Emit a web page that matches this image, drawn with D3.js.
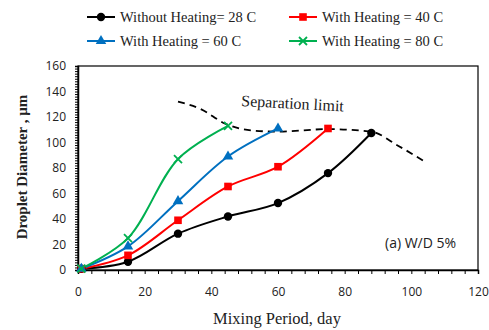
<!DOCTYPE html>
<html><head><meta charset="utf-8">
<script src="https://cdn.jsdelivr.net/npm/d3@7"></script>
<style>body{margin:0;background:#fff}</style>
</head><body>
<svg id="c" width="489" height="330"></svg>
<script>
const days = [1, 15, 30, 45, 60, 75, 88];
const seriesNames = ["Without Heating= 28 C", "With Heating = 40 C", "With Heating = 60 C", "With Heating = 80 C"];
const blackVals = [1, 6.5, 28.5, 42, 52.5, 76, 107.5];
const redVals = [1, 11.5, 39, 65.5, 81, 111];
const blueVals = [1, 18.5, 54, 89, 111];
const greenVals = [1, 25, 87, 113];
const sepDays = [30, 37, 44, 52, 60, 75, 88, 96, 104];
const sepVals = [132, 126, 115, 109.5, 108.5, 110.5, 108.5, 97.5, 85];
const xTicks = [0, 20, 40, 60, 80, 100, 120];
const yTicks = [0, 20, 40, 60, 80, 100, 120, 140, 160];

const svg = d3.select("#c");
const L = 78, R = 478, T = 66, B = 270;
const x = d3.scaleLinear().domain([0, 120]).range([L, R]);
const y = d3.scaleLinear().domain([0, 160]).range([B, T]);

svg.append("rect").attr("x", L).attr("y", T).attr("width", R - L).attr("height", B - T)
  .attr("fill", "none").attr("stroke", "#000").attr("stroke-width", 1.2);

const gx = svg.append("g").attr("transform", `translate(0,${B})`)
  .call(d3.axisBottom(x).tickValues(d3.range(0, 121, 4)).tickSize(4).tickFormat(""));
gx.select(".domain").attr("stroke-width", 1.5);
const gy = svg.append("g").attr("transform", `translate(${L},0)`)
  .call(d3.axisLeft(y).tickValues(d3.range(0, 161, 2)).tickSize(3).tickFormat(""));
gy.select(".domain").attr("stroke-width", 1.5);
const gxl = svg.append("g").attr("transform", `translate(0,${B})`)
  .call(d3.axisBottom(x).tickValues(xTicks).tickSize(0).tickPadding(17));
gxl.select(".domain").remove();
gxl.selectAll("text").attr("font-family", "Open Sans").attr("font-size", 12).attr("fill", "#222");
const gyl = svg.append("g").attr("transform", `translate(${L},0)`)
  .call(d3.axisLeft(y).tickValues(yTicks).tickSize(0).tickPadding(12));
gyl.select(".domain").remove();
gyl.selectAll("text").attr("font-family", "Open Sans").attr("font-size", 12).attr("fill", "#222");

svg.append("path").datum(sepDays.map((d, i) => [d, sepVals[i]]))
  .attr("d", d3.line().x(d => x(d[0])).y(d => y(d[1])).curve(d3.curveMonotoneX))
  .attr("fill", "none").attr("stroke", "#000").attr("stroke-width", 1.8).attr("stroke-dasharray", "7,5");

const series = [
  {vals: blackVals, color: "#000000", marker: "circle"},
  {vals: redVals, color: "#FF0000", marker: "square"},
  {vals: blueVals, color: "#0070C0", marker: "triangle"},
  {vals: greenVals, color: "#00B050", marker: "x"}
];

function drawMarker(g, type, cx, cy, color) {
  if (type === "circle") g.append("circle").attr("cx", cx).attr("cy", cy).attr("r", 4.2).attr("fill", color);
  else if (type === "square") g.append("rect").attr("x", cx - 3.8).attr("y", cy - 3.8).attr("width", 7.6).attr("height", 7.6).attr("fill", color);
  else if (type === "triangle") g.append("path").attr("d", d3.symbol(d3.symbolTriangle, 48)()).attr("transform", `translate(${cx},${cy})`).attr("fill", color);
  else g.append("path").attr("d", `M${cx-4},${cy-4}L${cx+4},${cy+4}M${cx-4},${cy+4}L${cx+4},${cy-4}`).attr("stroke", color).attr("stroke-width", 1.8);
}

const line = d3.line().x(d => x(d[0])).y(d => y(d[1])).curve(d3.curveCatmullRom);
series.forEach(s => {
  const pts = s.vals.map((v, i) => [days[i], v]);
  svg.append("path").datum(pts).attr("d", line).attr("fill", "none").attr("stroke", s.color).attr("stroke-width", 2);
});
series.forEach(s => {
  const g = svg.append("g");
  s.vals.forEach((v, i) => drawMarker(g, s.marker, x(days[i]), y(v), s.color));
});

svg.append("text").attr("x", 0).attr("y", 0).attr("transform", "translate(241,106) rotate(3)")
  .attr("font-family", "Liberation Serif").attr("font-size", 16).attr("fill", "#222").text("Separation limit");
svg.append("text").attr("x", 385).attr("y", 248).attr("font-family", "Open Sans").attr("font-size", 14).attr("fill", "#222").text("(a) W/D 5%");

svg.append("text").attr("x", 277).attr("y", 324).attr("text-anchor", "middle")
  .attr("font-family", "Liberation Serif").attr("font-size", 16.5).attr("fill", "#222").text("Mixing Period, day");
svg.append("text").attr("transform", "translate(27,167) rotate(-90)").attr("text-anchor", "middle")
  .attr("font-family", "Liberation Serif").attr("font-weight", "bold").attr("font-size", 15).attr("fill", "#222").text("Droplet Diameter , µm");

const legPos = [[87, 17], [289, 17], [87, 41], [289, 41]];
series.forEach((s, i) => {
  const [lx, ly] = legPos[i];
  const g = svg.append("g");
  g.append("line").attr("x1", lx).attr("x2", lx + 28).attr("y1", ly).attr("y2", ly).attr("stroke", s.color).attr("stroke-width", 2);
  drawMarker(g, s.marker, lx + 14, ly, s.color);
  g.append("text").attr("x", lx + 33).attr("y", ly + 5).attr("font-family", "Liberation Serif").attr("font-size", 14.5).attr("fill", "#222").text(seriesNames[i]);
});
</script>
</body></html>
